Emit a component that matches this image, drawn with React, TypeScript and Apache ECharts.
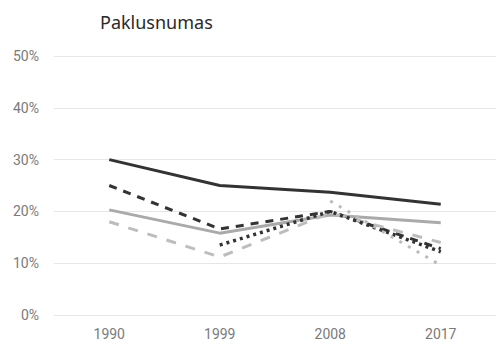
import React, { useEffect, useRef } from "react";
import * as echarts from "echarts";

const title = "Paklusnumas";
const years = ["1990", "1999", "2008", "2017"];
const seriesA = [30, 25, 23.7, 21.4];
const seriesB = [25, 16.6, 20, 12.8];
const seriesC = [20.3, 15.8, 19.3, 17.8];
const seriesD = [18, 11.2, 19.7, 14];
const seriesE = [null, 13.5, 20, 12.2];
const seriesF = [null, null, 22, 9.6];

const axisFont = "Roboto, sans-serif";

export default function App() {
  const ref = useRef<HTMLDivElement>(null);
  useEffect(() => {
    if (!ref.current) return;
    const chart = echarts.init(ref.current, null, { renderer: "svg" });
    const mk = (name: string, data: any[], color: string, type: any, width: number) => ({
      name,
      type: "line",
      data,
      symbol: "none",
      connectNulls: false,
      lineStyle: { color, type, width, cap: "butt" },
      itemStyle: { color },
    });
    chart.setOption({
      animation: false,
      backgroundColor: "#ffffff",
      title: {
        text: title,
        left: 95,
        top: 8,
        textStyle: { fontFamily: "'Noto Sans', sans-serif", fontSize: 18, fontWeight: "normal", color: "#2a2a2a" },
      },
      grid: { left: 54, right: 5, top: 56, bottom: 36 },
      xAxis: {
        type: "category",
        data: years,
        boundaryGap: true,
        axisLine: { show: false },
        axisTick: { show: false },
        axisLabel: { color: "#7a7a7a", fontSize: 14, fontFamily: axisFont, margin: 12 },
      },
      yAxis: {
        type: "value",
        min: 0,
        max: 50,
        interval: 10,
        axisLine: { show: false },
        axisTick: { show: false },
        splitLine: { lineStyle: { color: "#e6e6e6", width: 1 } },
        axisLabel: { color: "#7a7a7a", fontSize: 14, fontFamily: axisFont, margin: 15, formatter: "{value}%" },
      },
      series: [
        mk("A", seriesA, "#333333", "solid", 3),
        mk("B", seriesB, "#333333", [8, 7], 3),
        mk("C", seriesC, "#aaaaaa", "solid", 3),
        mk("D", seriesD, "#bdbdbd", [10, 10], 3),
        mk("E", seriesE, "#333333", [3, 4], 3.5),
        mk("F", seriesF, "#bbbbbb", [3, 7], 3),
      ],
    });
    return () => chart.dispose();
  }, []);
  return <div ref={ref} style={{ width: 501, height: 351, position: "absolute", left: 0, top: 0 }} />;
}
